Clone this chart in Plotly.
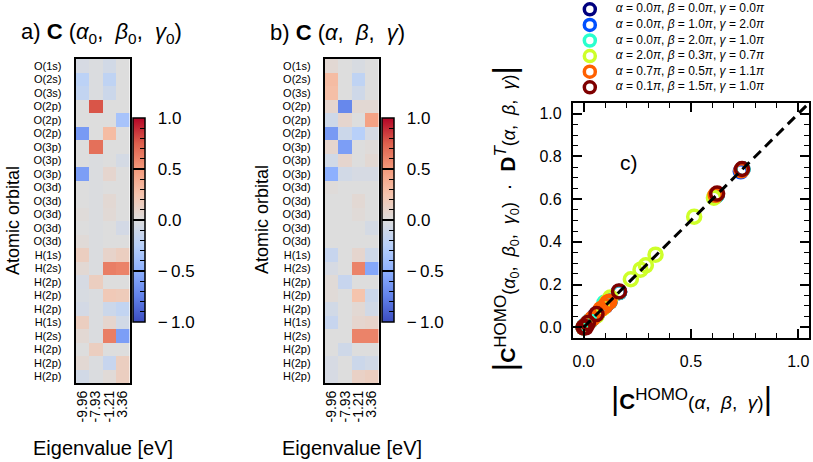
import plotly.graph_objects as go

W, H = 813, 462
FONT = "Liberation Sans, Arial, sans-serif"

# ---------------- data ----------------
orbitals = ["O(1s)", "O(2s)", "O(3s)", "O(2p)", "O(2p)", "O(2p)", "O(3p)", "O(3p)",
            "O(3p)", "O(3d)", "O(3d)", "O(3d)", "O(3d)", "O(3d)", "H(1s)", "H(2s)",
            "H(2p)", "H(2p)", "H(2p)", "H(1s)", "H(2s)", "H(2p)", "H(2p)", "H(2p)"]
eigenvalues = [-9.96, -7.93, -1.21, 3.36]

coef_a = [
    [-0.05, -0.02, -0.08, 0.00],
    [-0.22, -0.02, -0.20, 0.00],
    [-0.18, -0.02, -0.12, 0.00],
    [0.00, 0.78, 0.00, 0.00],
    [0.00, 0.00, 0.00, -0.35],
    [-0.62, 0.00, 0.30, 0.00],
    [0.00, 0.68, 0.00, 0.00],
    [0.00, -0.02, 0.00, -0.06],
    [-0.60, -0.02, 0.08, 0.00],
    [0.00, -0.02, 0.00, 0.00],
    [0.00, -0.02, 0.05, 0.00],
    [0.02, -0.02, 0.04, 0.00],
    [0.00, -0.02, 0.00, -0.07],
    [0.03, -0.02, 0.00, 0.00],
    [0.15, -0.02, 0.10, 0.15],
    [0.05, -0.02, 0.62, 0.60],
    [-0.05, 0.15, 0.00, 0.00],
    [-0.04, -0.02, 0.20, 0.18],
    [-0.07, -0.02, -0.12, -0.18],
    [0.15, -0.02, 0.08, -0.08],
    [0.05, -0.02, 0.62, -0.60],
    [0.00, 0.15, 0.00, 0.00],
    [0.05, -0.02, -0.15, 0.15],
    [-0.08, -0.02, 0.03, 0.15],
]
coef_b = [
    [0.05, 0.00, -0.04, 0.00],
    [0.30, 0.00, -0.20, 0.00],
    [0.28, 0.00, -0.10, 0.00],
    [0.08, -0.72, 0.05, 0.05],
    [-0.10, 0.08, 0.00, 0.45],
    [-0.62, -0.12, -0.25, -0.05],
    [0.08, -0.60, 0.00, 0.02],
    [-0.08, 0.08, 0.00, 0.05],
    [-0.50, -0.08, -0.05, -0.05],
    [0.02, 0.00, 0.00, 0.00],
    [0.00, 0.00, 0.05, 0.00],
    [0.00, 0.00, 0.03, 0.00],
    [0.00, 0.00, 0.00, -0.06],
    [0.00, 0.00, 0.00, 0.00],
    [-0.15, 0.00, 0.08, -0.10],
    [-0.05, 0.00, 0.60, -0.55],
    [0.03, -0.15, 0.00, 0.00],
    [0.03, 0.00, 0.25, -0.12],
    [-0.08, 0.00, 0.05, -0.08],
    [-0.15, 0.00, 0.08, 0.10],
    [0.00, 0.00, 0.60, 0.60],
    [0.00, -0.10, 0.00, 0.00],
    [-0.05, 0.00, -0.12, -0.08],
    [-0.05, 0.00, 0.12, 0.15],
]

cbar_major = [-1.0, -0.5, 0.0, 0.5, 1.0]
cbar_major_text = ["\u2212\u20091.0", "\u2212\u20090.5", "0.0", "0.5", "1.0"]
cbar_minor = [-0.9, -0.8, -0.7, -0.6, -0.4, -0.3, -0.2, -0.1,
              0.1, 0.2, 0.3, 0.4, 0.6, 0.7, 0.8, 0.9]

# rotation angles (in units of pi) for the six configurations
alpha_vals = [0.0, 0.0, 0.0, 2.0, 0.7, 0.1]
beta_vals = [0.0, 1.0, 2.0, 0.3, 0.5, 1.5]
gamma_vals = [0.0, 2.0, 1.0, 0.7, 1.1, 1.0]
series_colors = ["#00007f", "#0050ff", "#29ffce", "#ceff29", "#ff6000", "#7f0000"]

pts_x1 = [0.0, 0.01, 0.02, 0.03, 0.06, 0.10, 0.12, 0.165, 0.62, 0.74]
pts_y1 = [0.0, 0.01, 0.02, 0.03, 0.06, 0.10, 0.12, 0.165, 0.62, 0.74]
pts_x2 = [0.0, 0.01, 0.02, 0.05, 0.06, 0.10, 0.12, 0.165, 0.615, 0.732]
pts_y2 = [0.0, 0.01, 0.02, 0.05, 0.06, 0.10, 0.12, 0.165, 0.615, 0.730]
pts_x3 = [0.0, 0.01, 0.03, 0.06, 0.097, 0.12, 0.165, 0.62, 0.74]
pts_y3 = [0.0, 0.01, 0.03, 0.06, 0.115, 0.12, 0.165, 0.62, 0.74]
pts_x4 = [0.0, 0.02, 0.06, 0.09, 0.11, 0.125, 0.22, 0.265, 0.29, 0.335, 0.515, 0.607]
pts_y4 = [0.0, 0.02, 0.055, 0.09, 0.12, 0.14, 0.225, 0.27, 0.29, 0.34, 0.518, 0.607]
pts_x5 = [0.0, 0.02, 0.04, 0.08, 0.10, 0.11, 0.12, 0.615, 0.735]
pts_y5 = [0.0, 0.02, 0.04, 0.085, 0.10, 0.115, 0.12, 0.62, 0.735]
pts_x6 = [0.0, 0.01, 0.02, 0.06, 0.165, 0.622, 0.738]
pts_y6 = [0.0, 0.0, 0.02, 0.062, 0.168, 0.626, 0.741]
diag = [0.0, 1.05]

# ---------------- styling helpers ----------------
coolwarm = [
    [0.0, "rgb(59,76,192)"], [0.125, "rgb(98,130,234)"], [0.25, "rgb(141,176,254)"],
    [0.375, "rgb(184,208,249)"], [0.5, "rgb(221,221,221)"], [0.625, "rgb(245,196,173)"],
    [0.75, "rgb(244,154,123)"], [0.875, "rgb(222,96,77)"], [1.0, "rgb(180,4,38)"],
]
clear = [[0, "rgba(0,0,0,0)"], [1, "rgba(0,0,0,0)"]]


def px(x):
    return x / W


def py(y):
    return 1 - y / H


fig = go.Figure()

rows = list(range(len(orbitals)))
cols = list(range(len(eigenvalues)))


def add_heat(z, xa, ya, cb_left):
    cb_common = dict(x=px(cb_left), xanchor="left", xpad=0, y=py(220), yanchor="middle",
                     ypad=0, len=204 / H, lenmode="fraction", thickness=12)
    fig.add_trace(go.Heatmap(
        z=z, x=cols, y=rows, xaxis=xa, yaxis=ya, colorscale=coolwarm, zmin=-1, zmax=1,
        hoverinfo="skip", showlegend=False,
        colorbar=dict(**cb_common, outlinewidth=1.5, outlinecolor="black",
                      ticks="inside", ticklen=12, tickwidth=1.5, tickcolor="black",
                      tickmode="array", tickvals=cbar_major,
                      ticktext=["\u00a0\u2009" + t for t in cbar_major_text],
                      tickfont=dict(family=FONT, size=17, color="black")),
    ))
    fig.add_trace(go.Heatmap(
        z=z, x=cols, y=rows, xaxis=xa, yaxis=ya, colorscale=clear, zmin=-1, zmax=1,
        hoverinfo="skip", showlegend=False,
        colorbar=dict(**cb_common, outlinewidth=0, ticks="inside", ticklen=5,
                      tickwidth=1.2, tickcolor="black", tickmode="array",
                      tickvals=cbar_minor, showticklabels=False),
    ))


add_heat(coef_a, "x", "y", 131)
add_heat(coef_b, "x2", "y2", 381)

all_x = [pts_x1, pts_x2, pts_x3, pts_x4, pts_x5, pts_x6]
all_y = [pts_y1, pts_y2, pts_y3, pts_y4, pts_y5, pts_y6]
labels = []
for i in range(6):
    labels.append(f"<i>α</i> = {alpha_vals[i]:.1f}<i>π</i>, <i>β</i> = {beta_vals[i]:.1f}<i>π</i>, "
                  f"<i>γ</i> = {gamma_vals[i]:.1f}<i>π</i>")
    fig.add_trace(go.Scatter(
        x=all_x[i], y=all_y[i], mode="markers", name=labels[i], xaxis="x3", yaxis="y3",
        showlegend=False,
        marker=dict(symbol="circle-open", size=13, color=series_colors[i],
                    line=dict(width=3.5, color=series_colors[i])),
    ))

fig.add_trace(go.Scatter(x=diag, y=diag, mode="lines", xaxis="x3", yaxis="y3",
                         showlegend=False, line=dict(color="black", width=3, dash="10px,6px")))

# legend drawn as a compact key panel (markers + labels per configuration)
fig.add_trace(go.Scatter(
    x=[0] * 6, y=list(range(6)), mode="markers", xaxis="x4", yaxis="y4", showlegend=False,
    hoverinfo="skip", cliponaxis=False,
    marker=dict(symbol="circle-open", size=11, color=series_colors,
                line=dict(width=3.5, color=series_colors)),
))
fig.add_trace(go.Scatter(
    x=[1] * 6, y=list(range(6)), mode="text", text=labels, textposition="middle right",
    xaxis="x4", yaxis="y4", showlegend=False, hoverinfo="skip", cliponaxis=False,
    textfont=dict(family=FONT, size=12, color="black"),
))

heat_x = dict(range=[-0.5, 3.5], tickmode="array", tickvals=cols,
              ticktext=[f"{v:.2f}" for v in eigenvalues], tickangle=-90,
              tickfont=dict(family=FONT, size=14, color="black"), ticks="",
              showline=True, linewidth=2, linecolor="black", mirror=True,
              showgrid=False, zeroline=False)
heat_y = dict(range=[len(orbitals) - 0.5, -0.5], tickmode="array", tickvals=rows,
              ticktext=orbitals, tickfont=dict(family=FONT, size=11, color="black"),
              ticks="", ticklabelstandoff=10,
              showline=True, linewidth=2, linecolor="black", mirror=True,
              showgrid=False, zeroline=False)

sc_common = dict(range=[-0.05, 1.05], showline=True, linewidth=2, linecolor="black",
                 mirror="allticks", ticks="inside", tickwidth=1.5, tickcolor="black",
                 showgrid=False, zeroline=False, tickformat=".1f",
                 tickfont=dict(family=FONT, size=16, color="black"))
hidden = dict(visible=False, showgrid=False, zeroline=False, fixedrange=True)

fig.update_layout(
    width=W, height=H, autosize=False,
    margin=dict(l=0, r=0, t=0, b=0),
    paper_bgcolor="white", plot_bgcolor="rgba(0,0,0,0)",
    font=dict(family=FONT, color="black"),
    showlegend=False,
    xaxis=dict(domain=[px(74), px(128)], anchor="y", **heat_x),
    yaxis=dict(domain=[py(383), py(59)], anchor="x", **heat_y),
    xaxis2=dict(domain=[px(324), px(378)], anchor="y2", **heat_x),
    yaxis2=dict(domain=[py(383), py(59)], anchor="x2", **heat_y),
    xaxis3=dict(domain=[px(573), px(810)], anchor="y3", tick0=0, dtick=0.5, ticklen=9,
                ticklabelstandoff=8,
                minor=dict(dtick=0.1, ticks="inside", ticklen=5, tickwidth=1.2, tickcolor="black"),
                **sc_common),
    yaxis3=dict(domain=[py(338), py(103)], anchor="x3", tick0=0, dtick=0.2, ticklen=9,
                ticklabelstandoff=6,
                minor=dict(dtick=0.05, ticks="inside", ticklen=5, tickwidth=1.2, tickcolor="black"),
                **sc_common),
    xaxis4=dict(domain=[px(577), px(629)], anchor="y4", range=[-0.5, 1.5], **hidden),
    yaxis4=dict(domain=[py(95.1), py(1.5)], anchor="x4", range=[5.5, -0.5], **hidden),
)

bar = '<span style="font-size:32px">|</span>'
ann = [
    dict(x=px(100), y=py(33),
         text="a) <b>C</b> (<i>α</i><sub>0</sub>,  <i>β</i><sub>0</sub>,  <i>γ</i><sub>0</sub>)",
         font=dict(size=22)),
    dict(x=px(337), y=py(33), text="b) <b>C</b> (<i>α</i>,  <i>β</i>,  <i>γ</i>)", font=dict(size=22)),
    dict(x=px(11), y=py(220), text="Atomic orbital", textangle=-90, font=dict(size=18)),
    dict(x=px(261), y=py(220), text="Atomic orbital", textangle=-90, font=dict(size=18)),
    dict(x=px(101), y=py(448), text="Eigenvalue [eV]", font=dict(size=20)),
    dict(x=px(351), y=py(448), text="Eigenvalue [eV]", font=dict(size=20)),
    dict(x=px(692), y=py(398),
         text=bar + '<b>C</b><sup><span style="font-size:17px">HOMO</span></sup>'
              '<span style="font-size:19px">(<i>α</i>,  <i>β</i>,  <i>γ</i>)</span>' + bar,
         font=dict(size=22)),
    dict(x=px(504), y=py(219), textangle=-90,
         text=bar + '<b>C</b><sup><span style="font-size:17px">HOMO</span></sup>'
              '<span style="font-size:18px">(<i>α</i><sub>0</sub>,  <i>β</i><sub>0</sub>,  <i>γ</i><sub>0</sub>)</span>  ·  '
              '<b>D</b><sup><span style="font-size:17px"><i>T</i></span></sup>'
              '<span style="font-size:18px">(<i>α</i>,  <i>β</i>,  <i>γ</i>)</span>' + bar,
         font=dict(size=21)),
    dict(x=0.21, y=0.77, xref="x3", yref="y3", text="c)", font=dict(size=21)),
]
for a in ann:
    a.setdefault("xref", "paper")
    a.setdefault("yref", "paper")
    a["showarrow"] = False
    a["xanchor"] = "center"
    a["yanchor"] = "middle"
    a["font"] = dict(family=FONT, color="black", **a["font"])
fig.update_layout(annotations=ann)

fig.write_html("out.html", config={"displayModeBar": False},
               post_script="document.body.style.margin='0px';")
